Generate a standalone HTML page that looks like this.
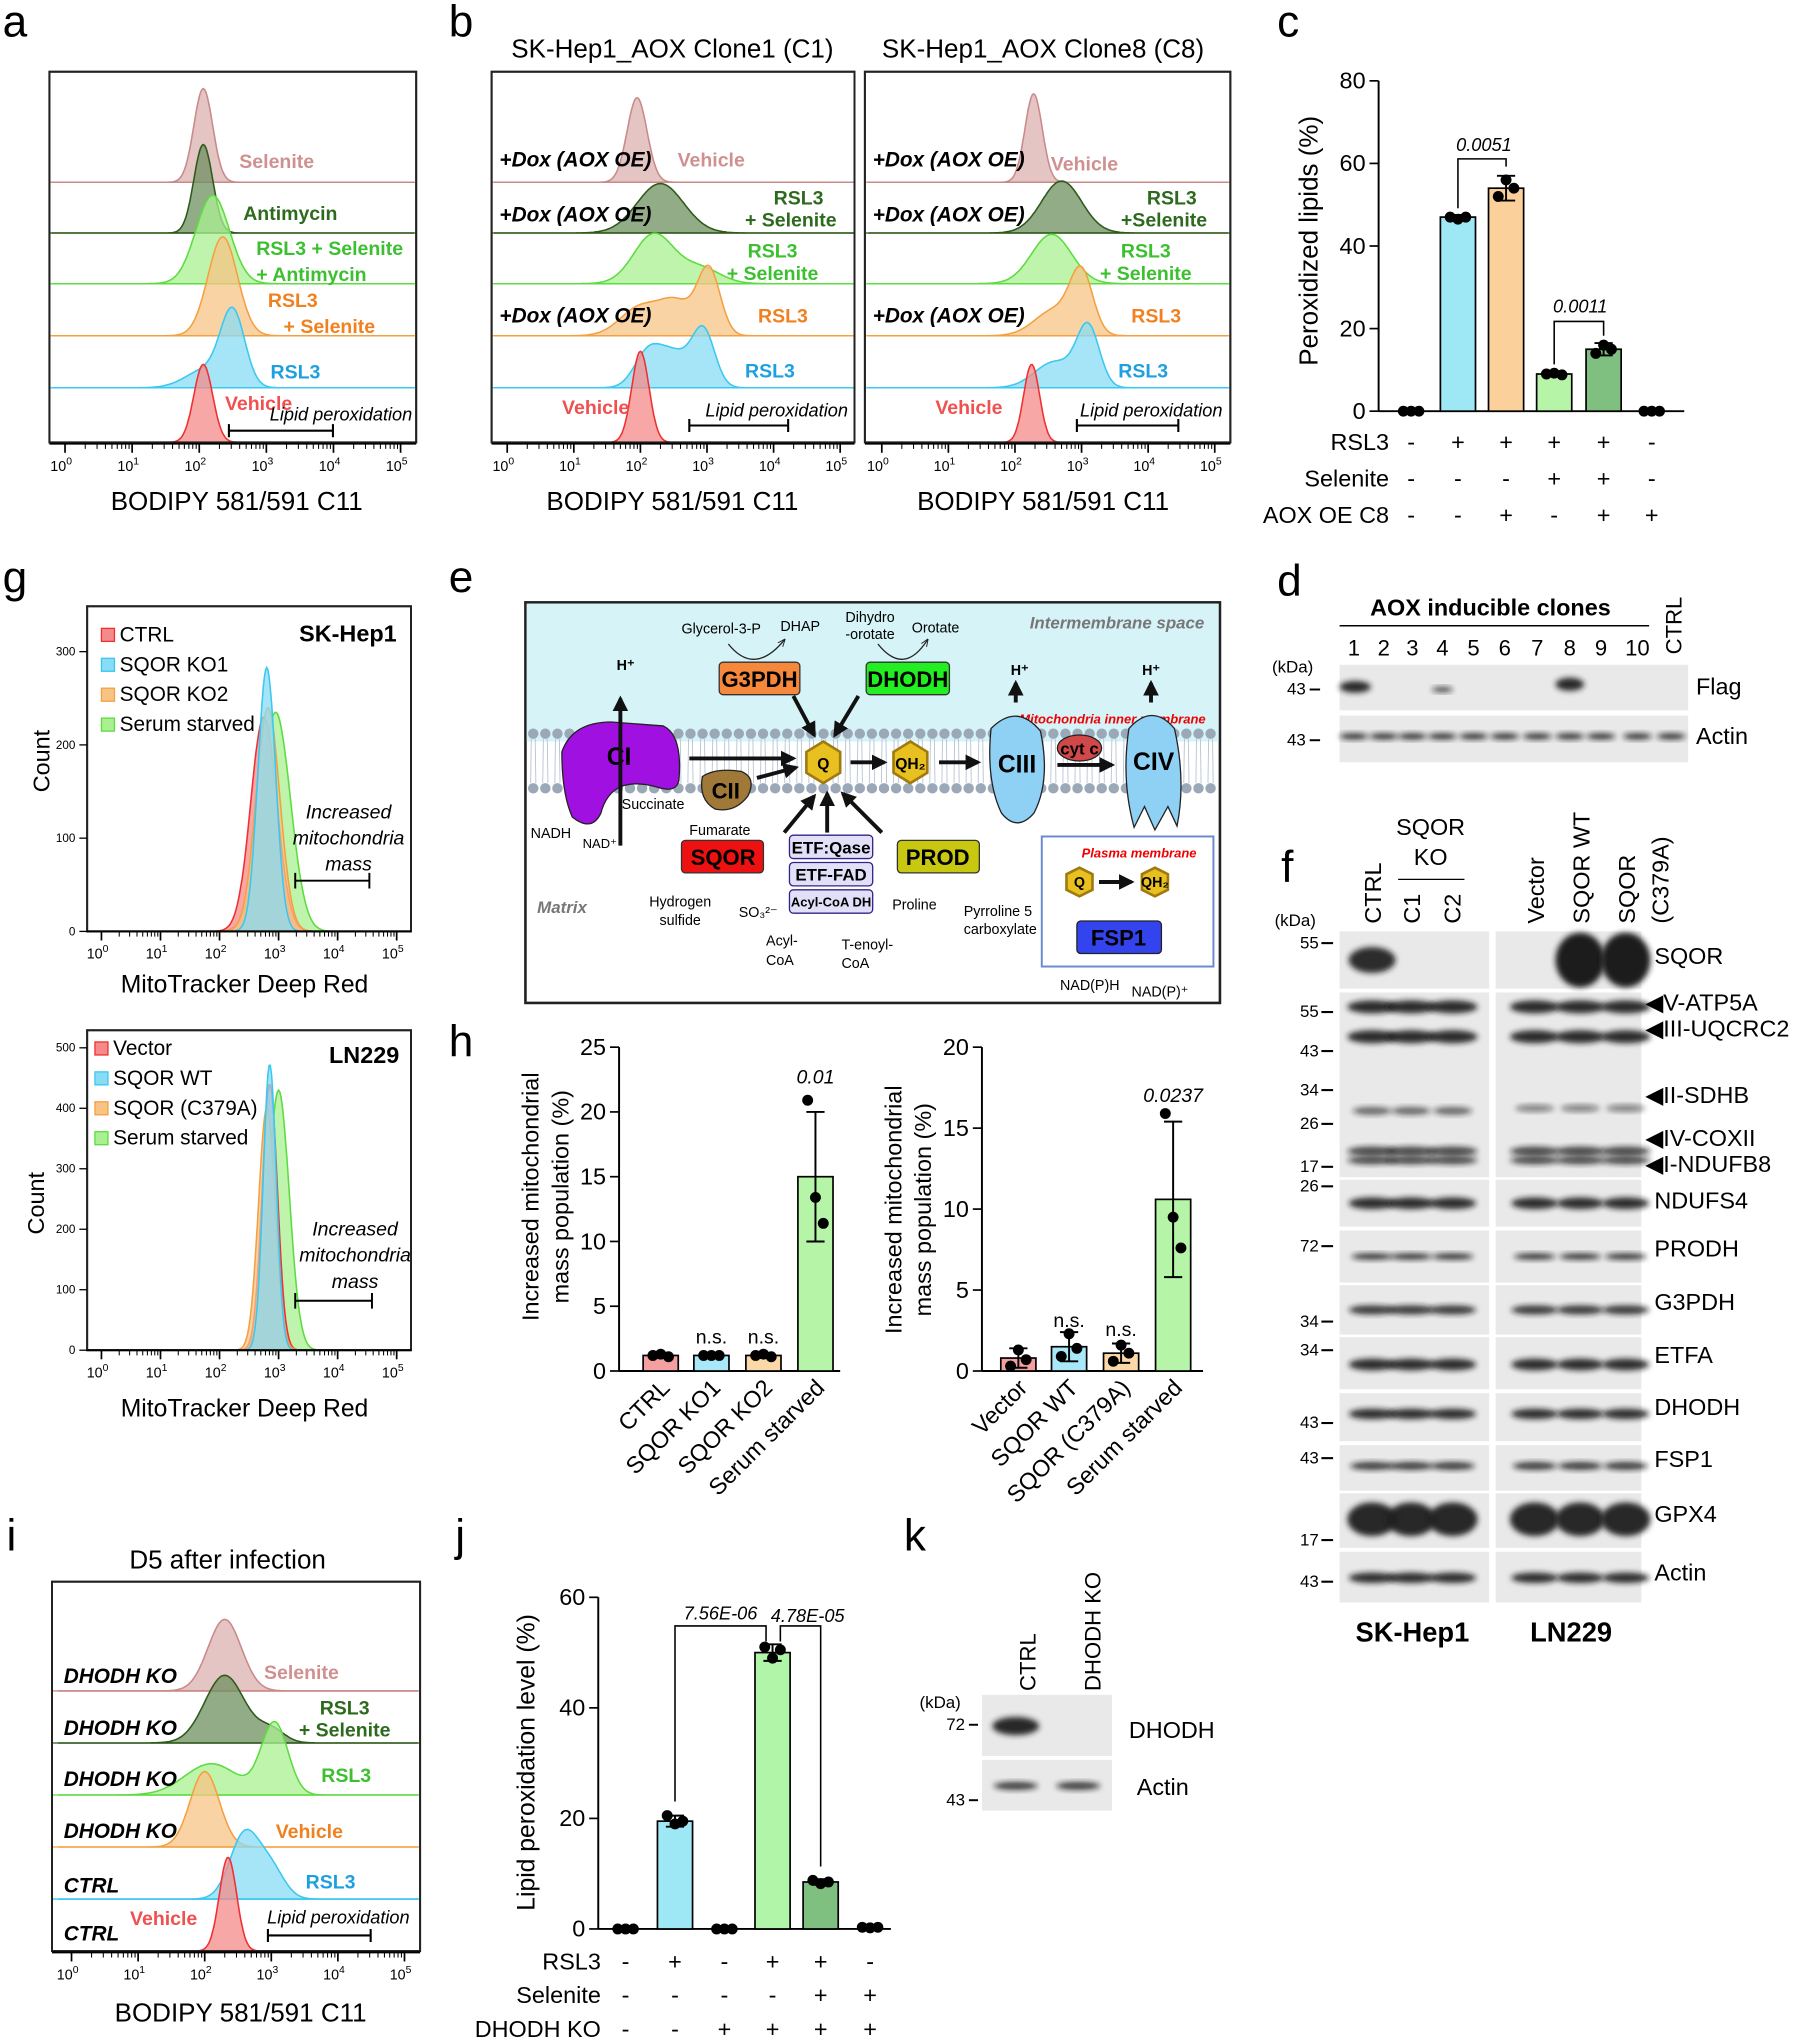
<!DOCTYPE html>
<html><head><meta charset="utf-8">
<style>
html,body{margin:0;padding:0;background:#fff;}
svg{display:block;font-family:"Liberation Sans",Arial,sans-serif;}
.pl{font-size:34px;}
.bi{font-weight:bold;font-style:italic;font-size:16px;}
</style></head>
<body>
<svg id="fig" width="1800" height="2041" viewBox="0 0 1384 1569" xmlns="http://www.w3.org/2000/svg">
<defs>
<filter id="blur" x="-20%" y="-50%" width="140%" height="200%"><feGaussianBlur stdDeviation="2.2"/></filter>
<marker id="ah" viewBox="0 0 10 10" refX="8" refY="5" markerWidth="4" markerHeight="4" orient="auto"><path d="M0,0L10,5L0,10z" fill="#111"/></marker>
<marker id="ahs" viewBox="0 0 10 10" refX="8" refY="5" markerWidth="6" markerHeight="6" orient="auto"><path d="M0,1L10,5L0,9" fill="none" stroke="#222" stroke-width="1.2"/></marker>
</defs>

<text class="pl" x="2" y="28">a</text>
<text class="pl" x="345" y="28">b</text>
<text class="pl" x="982" y="28">c</text>
<text class="pl" x="2" y="455">g</text>
<text class="pl" x="345" y="455">e</text>
<text class="pl" x="982" y="458">d</text>
<text class="pl" x="985" y="678">f</text>
<text class="pl" x="345" y="812">h</text>
<text class="pl" x="5" y="1192">i</text>
<text class="pl" x="350" y="1192">j</text>
<text class="pl" x="695" y="1192">k</text>

<text x="517" y="44" font-size="20" text-anchor="middle">SK-Hep1_AOX Clone1 (C1)</text>
<text x="802" y="44" font-size="20" text-anchor="middle">SK-Hep1_AOX Clone8 (C8)</text>
<text x="175" y="1206" font-size="20" text-anchor="middle">D5 after infection</text>

<g id="hists"></g>
<g id="bars"></g>

<g font-family="Liberation Sans, sans-serif">
<rect x="404" y="463" width="534" height="308" fill="#fff" stroke="#222" stroke-width="2"/>
<rect x="405" y="464" width="532" height="106" fill="#d6f3f7"/>
<g id="membrane"></g>
<text x="926" y="483" font-size="13" fill="#777" font-weight="bold" font-style="italic" text-anchor="end">Intermembrane space</text>
<text x="413" y="702" font-size="13" fill="#777" font-weight="bold" font-style="italic">Matrix</text>
<text x="927" y="556" font-size="10" fill="#e00" font-weight="bold" font-style="italic" text-anchor="end">Mitochondria inner membrane</text>
<text x="524" y="487" font-size="11">Glycerol-3-P</text>
<text x="600" y="485" font-size="11">DHAP</text>
<text x="650" y="478" font-size="11">Dihydro</text>
<text x="650" y="491" font-size="11">-orotate</text>
<text x="701" y="486" font-size="11">Orotate</text>
<path d="M560,495 Q580,520 603,492" fill="none" stroke="#222" marker-end="url(#ahs)"/>
<path d="M675,495 Q695,520 713,492" fill="none" stroke="#222" marker-end="url(#ahs)"/>
<rect x="553" y="509" width="62" height="25" rx="3" fill="#f5883a" stroke="#333"/>
<text x="584" y="528" font-size="17" font-weight="bold" text-anchor="middle">G3PDH</text>
<rect x="666" y="509" width="64" height="25" rx="3" fill="#22ee22" stroke="#333"/>
<text x="698" y="528" font-size="17" font-weight="bold" text-anchor="middle">DHODH</text>
<path d="M432,578 Q440,555 470,555 L510,558 Q525,565 522,600 Q520,610 505,605 Q470,595 462,625 Q455,640 440,628 Q432,610 432,578z" fill="#a010e0" stroke="#222"/>
<text x="476" y="588" font-size="19" font-weight="bold" text-anchor="middle">CI</text>
<line x1="477" y1="650" x2="477" y2="537" stroke="#111" stroke-width="3" marker-end="url(#ah)"/>
<text x="481" y="515" font-size="11" font-weight="bold" text-anchor="middle">H⁺</text>
<path d="M540,597 Q550,590 570,593 Q582,598 575,612 Q565,625 550,622 Q537,615 540,597z" fill="#a07838" stroke="#222"/>
<text x="558" y="614" font-size="17" font-weight="bold" text-anchor="middle">CII</text>
<text x="478" y="622" font-size="11">Succinate</text>
<text x="530" y="642" font-size="11">Fumarate</text>
<text x="408" y="644" font-size="11">NADH</text>
<text x="448" y="652" font-size="10">NAD⁺</text>
<line x1="530" y1="583" x2="610" y2="583" stroke="#111" stroke-width="3" marker-end="url(#ah)"/>
<line x1="582" y1="598" x2="612" y2="590" stroke="#111" stroke-width="3" marker-end="url(#ah)"/>
<polygon points="633,570 646,578 646,594 633,602 620,594 620,578" fill="#e8c020" stroke="#a07a10" stroke-width="2"/>
<text x="633" y="591" font-size="12" font-weight="bold" text-anchor="middle">Q</text>
<line x1="654" y1="586" x2="680" y2="586" stroke="#111" stroke-width="3" marker-end="url(#ah)"/>
<polygon points="700,570 713,578 713,594 700,602 687,594 687,578" fill="#e8c020" stroke="#a07a10" stroke-width="2"/>
<text x="700" y="591" font-size="12" font-weight="bold" text-anchor="middle">QH₂</text>
<line x1="722" y1="586" x2="752" y2="586" stroke="#111" stroke-width="3" marker-end="url(#ah)"/>
<line x1="610" y1="535" x2="626" y2="565" stroke="#111" stroke-width="3" marker-end="url(#ah)"/>
<line x1="660" y1="535" x2="642" y2="565" stroke="#111" stroke-width="3" marker-end="url(#ah)"/>
<line x1="603" y1="640" x2="626" y2="612" stroke="#111" stroke-width="3" marker-end="url(#ah)"/>
<line x1="636" y1="640" x2="636" y2="610" stroke="#111" stroke-width="3" marker-end="url(#ah)"/>
<line x1="678" y1="640" x2="648" y2="610" stroke="#111" stroke-width="3" marker-end="url(#ah)"/>
<path d="M762,560 Q782,540 800,562 Q808,600 795,625 Q782,640 770,625 Q758,600 762,560z" fill="#8fd0f5" stroke="#222"/>
<text x="782" y="594" font-size="19" font-weight="bold" text-anchor="middle">CIII</text>
<line x1="781" y1="540" x2="781" y2="525" stroke="#111" stroke-width="3" marker-end="url(#ah)"/>
<text x="784" y="519" font-size="11" font-weight="bold" text-anchor="middle">H⁺</text>
<ellipse cx="830" cy="575" rx="17" ry="10" fill="#d04848" stroke="#222"/>
<text x="830" y="580" font-size="13" font-weight="bold" text-anchor="middle">cyt c</text>
<line x1="813" y1="588" x2="855" y2="588" stroke="#111" stroke-width="3" marker-end="url(#ah)"/>
<path d="M868,560 Q886,540 903,560 Q912,600 905,635 L898,620 L888,638 L880,620 L872,636 Q862,600 868,560z" fill="#8fd0f5" stroke="#222"/>
<text x="887" y="592" font-size="19" font-weight="bold" text-anchor="middle">CIV</text>
<line x1="885" y1="540" x2="885" y2="525" stroke="#111" stroke-width="3" marker-end="url(#ah)"/>
<text x="885" y="519" font-size="11" font-weight="bold" text-anchor="middle">H⁺</text>
<rect x="524" y="646" width="63" height="25" rx="3" fill="#ee1111" stroke="#333"/>
<text x="556" y="665" font-size="17" font-weight="bold" text-anchor="middle">SQOR</text>
<text x="523" y="697" font-size="11" text-anchor="middle">Hydrogen</text>
<text x="523" y="711" font-size="11" text-anchor="middle">sulfide</text>
<text x="568" y="705" font-size="11">SO₃²⁻</text>
<rect x="607" y="642" width="64" height="18" rx="3" fill="#e2e0f8" stroke="#332288"/>
<text x="639" y="656" font-size="13" font-weight="bold" text-anchor="middle">ETF:Qase</text>
<rect x="607" y="663" width="64" height="18" rx="3" fill="#e2e0f8" stroke="#332288"/>
<text x="639" y="677" font-size="13" font-weight="bold" text-anchor="middle">ETF-FAD</text>
<rect x="607" y="684" width="64" height="18" rx="3" fill="#e2e0f8" stroke="#332288"/>
<text x="639" y="697" font-size="10" font-weight="bold" text-anchor="middle">Acyl-CoA DH</text>
<text x="589" y="727" font-size="11">Acyl-</text><text x="589" y="742" font-size="11">CoA</text>
<text x="647" y="730" font-size="11">T-enoyl-</text><text x="647" y="744" font-size="11">CoA</text>
<rect x="690" y="646" width="63" height="25" rx="3" fill="#c8c810" stroke="#333"/>
<text x="721" y="665" font-size="17" font-weight="bold" text-anchor="middle">PROD</text>
<text x="686" y="699" font-size="11">Proline</text>
<text x="741" y="704" font-size="11">Pyrroline 5</text><text x="741" y="718" font-size="11">carboxylate</text>
<rect x="801" y="643" width="132" height="100" fill="#fff" stroke="#6a8ad0" stroke-width="1.5"/>
<text x="920" y="659" font-size="10" fill="#e00" font-weight="bold" font-style="italic" text-anchor="end">Plasma membrane</text>
<polygon points="830,667 840,672 840,684 830,689 820,684 820,672" fill="#e8c020" stroke="#a07a10" stroke-width="2"/>
<text x="830" y="682" font-size="11" font-weight="bold" text-anchor="middle">Q</text>
<line x1="845" y1="678" x2="870" y2="678" stroke="#111" stroke-width="3" marker-end="url(#ah)"/>
<polygon points="888,667 898,672 898,684 888,689 878,684 878,672" fill="#e8c020" stroke="#a07a10" stroke-width="2"/>
<text x="888" y="682" font-size="11" font-weight="bold" text-anchor="middle">QH₂</text>
<rect x="828" y="708" width="65" height="25" rx="3" fill="#3344ee" stroke="#222"/>
<text x="860" y="727" font-size="17" font-weight="bold" text-anchor="middle">FSP1</text>
<text x="815" y="761" font-size="11">NAD(P)H</text><text x="870" y="766" font-size="11">NAD(P)⁺</text>
</g>

<g id="blots"></g>
<g id="texts"></g>
</svg>

<script>
const NS='http://www.w3.org/2000/svg';
function mk(tag,attrs,parent){const e=document.createElementNS(NS,tag);for(const k in attrs)e.setAttribute(k,attrs[k]);(parent||document.getElementById('fig')).appendChild(e);return e;}
function txt(x,y,s,attrs,parent){const e=mk('text',Object.assign({x:x,y:y},attrs||{}),parent);e.textContent=s;return e;}

const COL={
 rosy:['#dcb0b0','#c98a8a','#d09090'],
 dgreen:['#6f9060','#2d5a1a','#2d6a1e'],
 lgreen:['#a8f090','#5ddc40','#3cc030'],
 orange:['#f8c486','#f5a040','#f08020'],
 cyan:['#88dcf5','#3ac8f0','#1ea0e0'],
 red:['#f58a8a','#f03030','#f05050']
};

const aRowColors=['rosy','dgreen','lgreen','orange','cyan','red'];
const aPeaks=[[[2.06,0.14,72]],[[2.06,0.14,68]],[[2.2,0.25,68]],[[2.35,0.22,76]],[[2.5,0.18,56],[2.1,0.3,14]],[[2.06,0.14,60]]];
const b1Peaks=[[[1.95,0.15,65]],[[2.3,0.35,38]],[[2.2,0.3,38],[2.9,0.3,12]],[[3.03,0.17,50],[2.0,0.3,22],[2.55,0.25,24]],[[2.95,0.17,42],[2.1,0.2,24],[2.5,0.25,26]],[[2.0,0.13,70]]];
const b2Peaks=[[[2.28,0.13,68]],[[2.7,0.3,40]],[[2.55,0.3,38]],[[3.0,0.17,45],[2.6,0.3,20]],[[3.1,0.17,45],[2.6,0.3,20]],[[2.25,0.12,60]]];
const iPeaks=[[[2.3,0.25,55]],[[2.3,0.3,52],[3.0,0.2,10]],[[3.05,0.2,55],[2.1,0.4,24]],[[2.0,0.22,58]],[[2.6,0.22,50],[3.0,0.2,22]],[[2.35,0.13,72]]];
const iRowColors=['rosy','dgreen','lgreen','orange','cyan','red'];
const gTopPeaks=[[[2.95,0.25,235]],[[2.75,0.22,230]],[[2.82,0.2,240]],[[2.8,0.15,283]]];
const gTopColors=['lgreen','red','orange','cyan'];
const gBotPeaks=[[[3.0,0.18,430]],[[2.85,0.13,440]],[[2.8,0.14,400]],[[2.85,0.11,473]]];
const gBotColors=['lgreen','red','orange','cyan'];

const H=document.getElementById('hists');
function curve(x0,dec,base,peaks,col,scale,name){
 let d='M'+(x0-10)+','+base;
 for(let v=-0.2;v<=5.2;v+=0.02){let s=0;peaks.forEach(p=>{s+=p[2]*Math.exp(-0.5*Math.pow((v-p[0])/p[1],2));});
  d+=' L'+(x0+v*dec).toFixed(1)+','+(base-s*scale).toFixed(1);}
 d+=' L'+(x0+5.2*dec)+','+base+'Z';
 const e=mk('path',{d:d,fill:COL[col][0],'fill-opacity':0.75,stroke:COL[col][1],'stroke-width':1.2},H);
 
 
}
function logAxis(x0,dec,y,xl,xr,name){
 const g=mk('g',{},H);
 
 
 mk('line',{x1:xl,y1:y,x2:xr,y2:y,stroke:'#000','stroke-width':1.5},g);
 for(let k=0;k<=5;k++){const x=x0+k*dec;
  mk('line',{x1:x,y1:y,x2:x,y2:y+7,stroke:'#000','stroke-width':1.3},g);
  const t=txt(x-3,y+21,'10',{'font-size':11,'text-anchor':'middle'},g);
  const s=mk('tspan',{'font-size':8,dy:-5},t);s.textContent=String(k);
  if(k<5)for(let m=2;m<10;m++){const xm=x+Math.log10(m)*dec;mk('line',{x1:xm,y1:y,x2:xm,y2:y+4,stroke:'#000','stroke-width':0.8},g);}
 }
}
function stackPanel(x0,dec,boxL,boxR,top,bases,peaks,colors,name){
 mk('rect',{x:boxL,y:top,width:boxR-boxL,height:bases[bases.length-1]-top,fill:'#fff',stroke:'#222','stroke-width':1.5},H);
 peaks.forEach((p,i)=>{
  curve(x0,dec,bases[i],p,colors[i],1,name+'-curve-'+i);
  if(i<peaks.length-1)mk('line',{x1:boxL,y1:bases[i],x2:boxR,y2:bases[i],stroke:COL[colors[i]][1],'stroke-width':1},H);
 });
 mk('rect',{x:boxL,y:top,width:boxR-boxL,height:bases[bases.length-1]-top,fill:'none',stroke:'#222','stroke-width':1.5},H);
 logAxis(x0,dec,bases[bases.length-1]+1,boxL,boxR,name+'-x-axis');
}
const rowBases=[140,179,218,258,298,340];
stackPanel(50,51.6,38,320,55,rowBases,aPeaks,aRowColors,'panel-a');
stackPanel(390,51.2,378,657,55,rowBases,b1Peaks,aRowColors,'panel-b-c1');
stackPanel(678,51.2,665,946,55,rowBases,b2Peaks,aRowColors,'panel-b-c8');
stackPanel(55,51.2,40,323,1216,[1300,1340,1380,1420,1460,1500],iPeaks,iRowColors,'panel-i');

function overlay(top,base,peaks,colors,yticks,pxPer100,name){
 const x0=78,dec=45.4;
 mk('rect',{x:67,y:top,width:249,height:base-top,fill:'#fff',stroke:'#222','stroke-width':1.5},H);
 peaks.forEach((p,i)=>curve(x0,dec,base,p,colors[i],pxPer100/100,name+'-curve-'+i));
 mk('rect',{x:67,y:top,width:249,height:base-top,fill:'none',stroke:'#222','stroke-width':1.5},H);
 logAxis(x0,dec,base,67,316,name+'-x-axis');
 yticks.forEach(t=>{const y=base-t*pxPer100/100;mk('line',{x1:61,y1:y,x2:67,y2:y,stroke:'#000'},H);txt(58,y+3,String(t),{'font-size':9,'text-anchor':'end'},H);});
}
overlay(466,716,gTopPeaks,gTopColors,[0,100,200,300],71.7,'panel-g-top');
overlay(792,1038,gBotPeaks,gBotColors,[0,100,200,300,400,500],46.5,'panel-g-bottom');

const B=document.getElementById('bars');
function barChart(cfg){
 const g=mk('g',{},B);
 
 
 const yS=v=>cfg.y0-(v/cfg.ymax)*(cfg.y0-cfg.ytop);
 mk('line',{x1:cfg.ax,y1:cfg.ytop,x2:cfg.ax,y2:cfg.y0,stroke:'#000','stroke-width':1.5},g);
 mk('line',{x1:cfg.ax,y1:cfg.y0,x2:cfg.axR,y2:cfg.y0,stroke:'#000','stroke-width':1.5},g);
 cfg.ticks.forEach(t=>{const y=yS(t);mk('line',{x1:cfg.ax-7,y1:y,x2:cfg.ax,y2:y,stroke:'#000','stroke-width':1.3},g);
  txt(cfg.ax-10,y+6,String(t),{'font-size':18,'text-anchor':'end'},g);});
 cfg.values.forEach((v,i)=>{const cx=cfg.x[i];
  if(v>0.01){const r=mk('rect',{x:cx-cfg.bw/2,y:yS(v),width:cfg.bw,height:cfg.y0-yS(v),fill:cfg.colors[i],stroke:'#000','stroke-width':1.3},g);
   
   
   const eb=cfg.err[i];
   mk('line',{x1:cx,y1:yS(v+eb),x2:cx,y2:yS(Math.max(0,v-eb)),stroke:'#000','stroke-width':1.5},g);
   mk('line',{x1:cx-7,y1:yS(v+eb),x2:cx+7,y2:yS(v+eb),stroke:'#000','stroke-width':1.5},g);
   mk('line',{x1:cx-7,y1:yS(Math.max(0,v-eb)),x2:cx+7,y2:yS(Math.max(0,v-eb)),stroke:'#000','stroke-width':1.5},g);}
  cfg.dots[i].forEach((d,j)=>{const c=mk('circle',{cx:cx+(j-1)*6,cy:yS(d),r:4.2,fill:'#000'},g);
   
   });
 });
 return yS;
}
const cValues=[0,47,54,9,15,0];
const cErr=[0,0.5,3,0.5,1.5,0];
const cDots=[[0,0,0],[47,46.5,47],[52,56,54],[9,9.2,8.8],[14,16,15],[0,0,0]];
const cTicks=[0,20,40,60,80];
barChart({name:'panel-c-chart',ax:1060,axR:1295,y0:316,ytop:62,ymax:80,ticks:cTicks,values:cValues,err:cErr,dots:cDots,
 x:[1085,1121,1158,1195,1233,1270],bw:27,colors:['#fff','#9ee8f5','#fcd09a','#b6f5a8','#7fbf80','#fff']});
const hLValues=[1.2,1.2,1.2,15];
const hLErr=[0.2,0.2,0.2,5];
const hLDots=[[1.2,1.3,1.1],[1.2,1.2,1.2],[1.2,1.3,1.1],[20.9,13.4,11.4]];
const hLTicks=[0,5,10,15,20,25];
barChart({name:'panel-h-left-chart',ax:476,axR:646,y0:1054,ytop:805,ymax:25,ticks:hLTicks,values:hLValues,err:hLErr,dots:hLDots,
 x:[508,547,587,627],bw:27,colors:['#f4a0a0','#a8e8f8','#fcd8a8','#b6f5a8']});
const hRValues=[0.8,1.5,1.1,10.6];
const hRErr=[0.6,0.9,0.6,4.8];
const hRDots=[[0.3,1.3,0.7],[0.9,2.3,1.4],[0.6,1.6,1.1],[15.9,9.5,7.6]];
const hRTicks=[0,5,10,15,20];
barChart({name:'panel-h-right-chart',ax:755,axR:925,y0:1054,ytop:805,ymax:20,ticks:hRTicks,values:hRValues,err:hRErr,dots:hRDots,
 x:[783,822,862,902],bw:27,colors:['#f4a0a0','#a8e8f8','#fcd8a8','#b6f5a8']});
const jValues=[0,19.5,0,50,8.5,0];
const jErr=[0,1,0,1.5,0.5,0];
const jDots=[[0,0,0],[20.5,19,19.5],[0,0,0],[51,49,50.5],[8.8,8.2,8.5],[0.3,0.2,0.3]];
const jTicks=[0,20,40,60];
barChart({name:'panel-j-chart',ax:460,axR:685,y0:1483,ytop:1228,ymax:60,ticks:jTicks,values:jValues,err:jErr,dots:jDots,
 x:[481,519,557,594,631,669],bw:27,colors:['#fff','#9ee8f5','#fff','#b0f5a8','#7fbf80','#fff']});

const M=document.getElementById('membrane');
for(let x=410;x<935;x+=9.3){
 mk('circle',{cx:x,cy:564,r:4,fill:'#9aa8b8'},M);mk('circle',{cx:x,cy:606,r:4,fill:'#9aa8b8'},M);
 mk('path',{d:'M'+(x-1.5)+',568 L'+(x-2)+',602 M'+(x+1.5)+',568 L'+(x+2)+',602',stroke:'#b8c4d4','stroke-width':0.7,fill:'none'},M);}
for(let x=808;x<928;x+=6){mk('circle',{cx:x,cy:666,r:2.5,fill:'#9aa8b8'},M);mk('circle',{cx:x,cy:690,r:2.5,fill:'#9aa8b8'},M);}

const W=document.getElementById('blots');
function panel(x,y,w,h,name){const r=mk('rect',{x:x,y:y,width:w,height:h,fill:'#e9e9e9'},W);
 
 }
function band(cx,cy,w,h,op){mk('ellipse',{cx:cx,cy:cy,rx:w/2,ry:h/2,fill:'#1a1a1a','fill-opacity':op,filter:'url(#blur)'},W);}
panel(1030,511,268,35,'blot-flag');panel(1030,550,268,36,'blot-actin-d');
band(1042,528,24,9,0.95);band(1109,530,16,4,0.8);band(1207,526,22,10,0.95);
[1041,1064,1086,1109,1133,1157,1182,1207,1231,1259,1285].forEach(x=>band(x,566,22,5,0.85));
const fL=[1055,1085,1117],fR=[1180,1215,1250];
const rows=[[716,760],[763,905],[907,943],[946,986],[988,1026],[1028,1068],[1071,1108],[1111,1146],[1148,1190],[1193,1232]];
rows.forEach((r,i)=>{panel(1030,r[0],115,r[1]-r[0],'blot-f-left-'+i);panel(1150,r[0],112,r[1]-r[0],'blot-f-right-'+i);});
band(1055,738,36,20,0.9);band(1215,738,38,42,1);band(1250,738,38,42,1);
[...fL,...fR].forEach(x=>{band(x,774,38,10,0.9);band(x,797,38,10,0.9);band(x,885,38,7,0.8);band(x,892,38,6,0.8);
 band(x,925,36,9,0.9);band(x,966,32,5,0.85);band(x,1007,36,7,0.85);band(x,1049,36,9,0.9);band(x,1087,36,8,0.9);band(x,1127,34,6,0.85);band(x,1168,38,26,0.95);band(x,1213,36,8,0.9);});
fL.forEach(x=>band(x,854,30,6,0.65));fR.forEach(x=>band(x,852,30,5,0.55));
panel(755,1303,100,47,'blot-dhodh-k');panel(755,1353,100,39,'blot-actin-k');
band(781,1327,36,14,0.95);band(781,1373,34,6,0.85);band(829,1373,34,6,0.85);

const T=document.getElementById('texts');
function lbl(x,y,s,a,name){const e=txt(x,y,s,a,T);return e;}
lbl(182,392,'BODIPY 581/591 C11',{'font-size':20,'text-anchor':'middle'},'x-axis-title-a');
lbl(517,392,'BODIPY 581/591 C11',{'font-size':20,'text-anchor':'middle'},'x-axis-title-b1');
lbl(802,392,'BODIPY 581/591 C11',{'font-size':20,'text-anchor':'middle'},'x-axis-title-b2');
lbl(185,1554,'BODIPY 581/591 C11',{'font-size':20,'text-anchor':'middle'},'x-axis-title-i');
lbl(188,763,'MitoTracker Deep Red',{'font-size':19,'text-anchor':'middle'},'x-axis-title-g-top');
lbl(188,1089,'MitoTracker Deep Red',{'font-size':19,'text-anchor':'middle'},'x-axis-title-g-bottom');
lbl(0,0,'Count',{'font-size':18,'text-anchor':'middle',transform:'translate(38,585) rotate(-90)'},'y-axis-title-g-top');
lbl(0,0,'Count',{'font-size':18,'text-anchor':'middle',transform:'translate(34,925) rotate(-90)'},'y-axis-title-g-bottom');
lbl(0,0,'Peroxidized lipids (%)',{'font-size':20,'text-anchor':'middle',transform:'translate(1013,185) rotate(-90)'},'y-axis-title-c');
lbl(0,0,'Increased mitochondrial',{'font-size':18,'text-anchor':'middle',transform:'translate(414,920) rotate(-90)'},'y-axis-title-h-left');
lbl(0,0,'mass population (%)',{'font-size':18,'text-anchor':'middle',transform:'translate(437,920) rotate(-90)'},'y-axis-title-h-left2');
lbl(0,0,'Increased mitochondrial',{'font-size':18,'text-anchor':'middle',transform:'translate(693,930) rotate(-90)'},'y-axis-title-h-right');
lbl(0,0,'mass population (%)',{'font-size':18,'text-anchor':'middle',transform:'translate(716,930) rotate(-90)'},'y-axis-title-h-right2');
lbl(0,0,'Lipid peroxidation level (%)',{'font-size':19,'text-anchor':'middle',transform:'translate(411,1355) rotate(-90)'},'y-axis-title-j');
function cl(x,y,s,c,name,anchor){lbl(x,y,s,{'font-size':15,'font-weight':'bold',fill:COL[c][2],'text-anchor':anchor||'start'},name);}
cl(184,129,'Selenite','rosy','label-a-selenite');
cl(187,169,'Antimycin','dgreen','label-a-antimycin');
cl(197,196,'RSL3 + Selenite','lgreen','label-a-rsl3sel');
cl(197,216,'+ Antimycin','lgreen','label-a-antimycin2');
cl(206,236,'RSL3','orange','label-a-rsl3-1');cl(218,256,'+ Selenite','orange','label-a-selenite2');
cl(208,291,'RSL3','cyan','label-a-rsl3');cl(173,315,'Vehicle','red','label-a-vehicle');
function lp(x,y,bx1,bx2,by,name){lbl(x,y,'Lipid peroxidation',{'font-size':14,'font-style':'italic','text-anchor':'end'},name);
 mk('path',{d:'M'+bx1+','+(by-5)+'V'+(by+5)+'M'+bx1+','+by+'H'+bx2+'M'+bx2+','+(by-5)+'V'+(by+5),stroke:'#000','stroke-width':1.6,fill:'none'},T);}
lp(317,323,176,256,331,'label-a-lipid');
lp(652,320,530,606,327,'label-b1-lipid');lp(940,320,828,906,327,'label-b2-lipid');
lp(315,1479,206,285,1488,'label-i-lipid');
function y1(k){return k?131:128;}
[[0,378],[1,665]].forEach(([k,x])=>{
 [[128,'r1'],[170,'r2'],[248,'r4']].forEach(([y,r])=>lbl(x+6,y,'+Dox (AOX OE)',{'class':'bi'},'label-b'+k+'-dox-'+r));
 cl(x+143,y1(k),'Vehicle','rosy','label-b'+k+'-vehicle');
 cl(x+236,157,'RSL3','dgreen','label-b'+k+'-rsl3sel','middle');cl(x+230,174,k?'+Selenite':'+ Selenite','dgreen','label-b'+k+'-sel','middle');
 cl(x+216,198,'RSL3','lgreen','label-b'+k+'-rsl3sel2','middle');cl(x+216,215,'+ Selenite','lgreen','label-b'+k+'-sel2','middle');
 cl(x+224,248,'RSL3','orange','label-b'+k+'-rsl3-4','middle');
 cl(x+214,290,'RSL3','cyan','label-b'+k+'-rsl3-5','middle');
 cl(x+80,318,'Vehicle','red','label-b'+k+'-vehicle2','middle');
});
const cRowNames=['RSL3','Selenite','AOX OE C8'];
const cSigns=[['-','+','+','+','+','-'],['-','-','-','+','+','-'],['-','-','+','-','+','+']];
const cX=[1085,1121,1158,1195,1233,1270];
cRowNames.forEach((n,r)=>{const y=346+r*28;lbl(1068,y,n,{'font-size':18,'text-anchor':'end'},'row-label-c-'+r);
 cSigns[r].forEach((s,i)=>lbl(cX[i],y,s,{'font-size':18,'text-anchor':'middle'},'sign-c'));});
lbl(1141,116,'0.0051',{'font-size':14,'font-style':'italic','text-anchor':'middle'},'pvalue-c1');
mk('path',{d:'M1121,160V122H1158V128',stroke:'#000',fill:'none','stroke-width':1.2},T);
lbl(1215,240,'0.0011',{'font-size':14,'font-style':'italic','text-anchor':'middle'},'pvalue-c2');
mk('path',{d:'M1195,280V247H1233V258',stroke:'#000',fill:'none','stroke-width':1.2},T);
function leg(x,y,s,c,name){mk('rect',{x:x,y:y-10,width:10,height:10,fill:COL[c][0],stroke:COL[c][1]},T);lbl(x+14,y,s,{'font-size':16},name);}
leg(78,493,'CTRL','red','legend-ctrl');leg(78,516,'SQOR KO1','cyan','legend-ko1');leg(78,539,'SQOR KO2','orange','legend-ko2');leg(78,562,'Serum starved','lgreen','legend-serum');
leg(73,811,'Vector','red','legend-vector');leg(73,834,'SQOR WT','cyan','legend-wt');leg(73,857,'SQOR (C379A)','orange','legend-c379a');leg(73,880,'Serum starved','lgreen','legend-serum2');
lbl(305,493,'SK-Hep1',{'font-size':18,'font-weight':'bold','text-anchor':'end'},'label-skhep1');
lbl(307,817,'LN229',{'font-size':18,'font-weight':'bold','text-anchor':'end'},'label-ln229');
['Increased','mitochondria','mass'].forEach((s,i)=>{lbl(268,629+i*20,s,{'font-size':15,'font-style':'italic','text-anchor':'middle'},'annot-g-top-'+i);
 lbl(273,950+i*20,s,{'font-size':15,'font-style':'italic','text-anchor':'middle'},'annot-g-bot-'+i);});
mk('path',{d:'M227,671V683M227,677H284M284,671V683',stroke:'#000','stroke-width':1.5,fill:'none'},T);
mk('path',{d:'M227,994V1006M227,1000H286M286,994V1006',stroke:'#000','stroke-width':1.5,fill:'none'},T);
lbl(627,833,'0.01',{'font-size':15,'font-style':'italic','text-anchor':'middle'},'pvalue-h-left');
lbl(547,1033,'n.s.',{'font-size':15,'text-anchor':'middle'},'ns-h1');lbl(587,1033,'n.s.',{'font-size':15,'text-anchor':'middle'},'ns-h2');
lbl(902,847,'0.0237',{'font-size':15,'font-style':'italic','text-anchor':'middle'},'pvalue-h-right');
lbl(822,1020,'n.s.',{'font-size':15,'text-anchor':'middle'},'ns-h3');lbl(862,1027,'n.s.',{'font-size':15,'text-anchor':'middle'},'ns-h4');
const hLCats=['CTRL','SQOR KO1','SQOR KO2','Serum starved'];
const hRCats=['Vector','SQOR WT','SQOR (C379A)','Serum starved'];
[[hLCats,[508,547,587,627]],[hRCats,[783,822,862,902]]].forEach(([cats,xs],k)=>cats.forEach((c,i)=>
 lbl(0,0,c,{'font-size':18,'text-anchor':'end',transform:'translate('+(xs[i]+8)+',1068) rotate(-45)'},'x-tick-h'+k+'-'+i)));
['DHODH KO','DHODH KO','DHODH KO','DHODH KO','CTRL','CTRL'].forEach((s,i)=>lbl(49,[1294,1334,1373,1413,1455,1492][i],s,{'class':'bi'},'label-i-row-'+i));
cl(203,1291,'Selenite','rosy','label-i-selenite');
cl(265,1318,'RSL3','dgreen','label-i-rsl3sel','middle');cl(265,1335,'+ Selenite','dgreen','label-i-sel','middle');
cl(247,1370,'RSL3','lgreen','label-i-rsl3');cl(212,1413,'Vehicle','orange','label-i-vehicle');
cl(235,1452,'RSL3','cyan','label-i-rsl3-ctrl');cl(100,1480,'Vehicle','red','label-i-vehicle-ctrl');
const jRowNames=['RSL3','Selenite','DHODH KO'];
const jSigns=[['-','+','-','+','+','-'],['-','-','-','-','+','+'],['-','-','+','+','+','+']];
const jX=[481,519,557,594,631,669];
jRowNames.forEach((n,r)=>{const y=1514+r*26;lbl(462,y,n,{'font-size':18,'text-anchor':'end'},'row-label-j-'+r);
 jSigns[r].forEach((s,i)=>lbl(jX[i],y,s,{'font-size':18,'text-anchor':'middle'},'sign-j'));});
lbl(554,1245,'7.56E-06',{'font-size':14,'font-style':'italic','text-anchor':'middle'},'pvalue-j1');
lbl(621,1247,'4.78E-05',{'font-size':14,'font-style':'italic','text-anchor':'middle'},'pvalue-j2');
mk('path',{d:'M519,1385V1250H589V1262',stroke:'#000',fill:'none','stroke-width':1.2},T);
mk('path',{d:'M600,1262V1250H631V1435',stroke:'#000',fill:'none','stroke-width':1.2},T);
lbl(1146,473,'AOX inducible clones',{'font-size':18,'font-weight':'bold','text-anchor':'middle'},'label-aox-clones');
mk('line',{x1:1030,y1:481,x2:1268,y2:481,stroke:'#000','stroke-width':1.2},T);
[1,2,3,4,5,6,7,8,9,10].forEach((n,i)=>lbl([1041,1064,1086,1109,1133,1157,1182,1207,1231,1259][i],504,String(n),{'font-size':17,'text-anchor':'middle'},'clone-'+n));
lbl(0,0,'CTRL',{'font-size':17,'transform':'translate(1293,503) rotate(-90)'},'label-d-ctrl');
lbl(978,517,'(kDa)',{'font-size':13},'kda-d');
lbl(1004,534,'43',{'font-size':13,'text-anchor':'end'},'kda-d-43a');mk('line',{x1:1007,y1:530,x2:1015,y2:530,stroke:'#000','stroke-width':1.5},T);
lbl(1004,573,'43',{'font-size':13,'text-anchor':'end'},'kda-d-43b');mk('line',{x1:1007,y1:569,x2:1015,y2:569,stroke:'#000','stroke-width':1.5},T);
lbl(1304,534,'Flag',{'font-size':18},'label-flag');lbl(1304,572,'Actin',{'font-size':18},'label-actin-d');
[['CTRL',1062,710],['C1',1092,710],['C2',1123,710],['Vector',1187,710],['SQOR WT',1222,710],['SQOR',1257,710],['(C379A)',1283,710]].forEach(([s,x,y],i)=>
 lbl(0,0,s,{'font-size':18,transform:'translate('+x+','+y+') rotate(-90)'},'lane-label-f-'+i));
lbl(1100,642,'SQOR',{'font-size':18,'text-anchor':'middle'},'label-sqor-ko');lbl(1100,665,'KO',{'font-size':18,'text-anchor':'middle'},'label-sqor-ko2');
mk('line',{x1:1075,y1:676,x2:1126,y2:676,stroke:'#000'},T);
lbl(980,712,'(kDa)',{'font-size':13},'kda-f');
[[55,725],[55,778],[43,808],[34,838],[26,864],[17,897],[26,912],[72,958],[34,1016],[34,1038],[43,1094],[43,1121],[17,1184],[43,1216]].forEach(([k,y],i)=>{
 lbl(1014,y+4,String(k),{'font-size':13,'text-anchor':'end'},'kda-f-'+i);mk('line',{x1:1016,y1:y,x2:1025,y2:y,stroke:'#000','stroke-width':1.6},T);});
[['SQOR',741],['◀V-ATP5A',777],['◀III-UQCRC2',797],['◀II-SDHB',848],['◀IV-COXII',881],['◀I-NDUFB8',901],['NDUFS4',929],['PRODH',966],['G3PDH',1007],['ETFA',1048],['DHODH',1088],['FSP1',1128],['GPX4',1170],['Actin',1215]].forEach(([s,y],i)=>
 lbl(s[0]==='◀'?1265:1272,y,s,{'font-size':18},'protein-label-f-'+i));
lbl(1086,1262,'SK-Hep1',{'font-size':21,'font-weight':'bold','text-anchor':'middle'},'label-f-skhep1');
lbl(1208,1262,'LN229',{'font-size':21,'font-weight':'bold','text-anchor':'middle'},'label-f-ln229');
lbl(0,0,'CTRL',{'font-size':17,transform:'translate(796,1300) rotate(-90)'},'lane-k-ctrl');
lbl(0,0,'DHODH KO',{'font-size':17,transform:'translate(846,1300) rotate(-90)'},'lane-k-ko');
lbl(707,1313,'(kDa)',{'font-size':13},'kda-k');
lbl(742,1330,'72',{'font-size':13,'text-anchor':'end'},'kda-k-72');mk('line',{x1:745,y1:1326,x2:752,y2:1326,stroke:'#000','stroke-width':1.5},T);
lbl(742,1388,'43',{'font-size':13,'text-anchor':'end'},'kda-k-43');mk('line',{x1:745,y1:1384,x2:752,y2:1384,stroke:'#000','stroke-width':1.5},T);
lbl(868,1336,'DHODH',{'font-size':18},'label-k-dhodh');lbl(874,1380,'Actin',{'font-size':18},'label-k-actin');
</script>
</body></html>
